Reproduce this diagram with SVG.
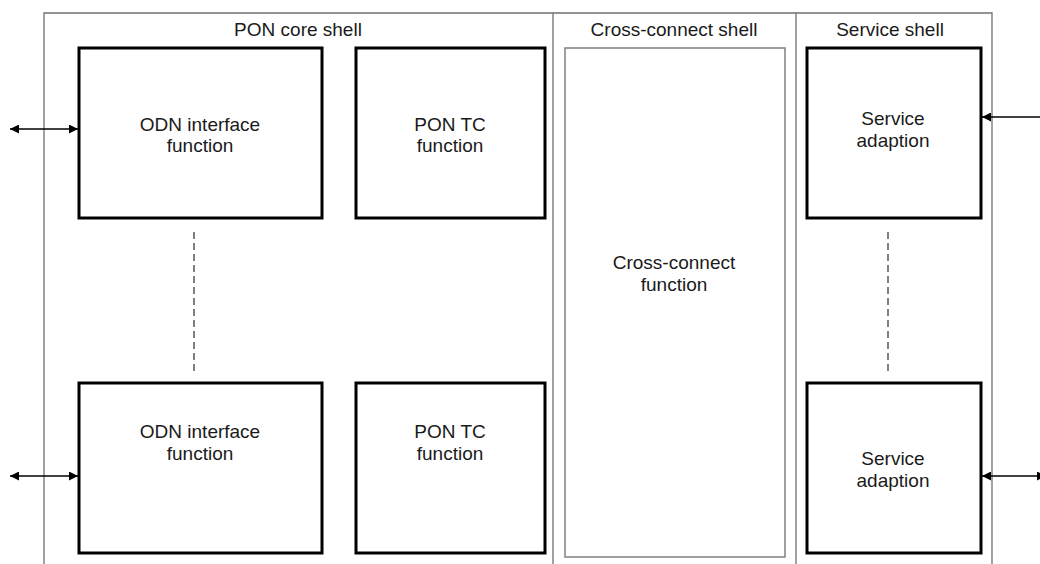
<svg xmlns="http://www.w3.org/2000/svg" width="1040" height="564" viewBox="0 0 1040 564">
<style>
.shell{fill:none;stroke:#707070;stroke-width:1.3}
.box{fill:#fff;stroke:#000;stroke-width:3}
.thin{fill:#fff;stroke:#808080;stroke-width:1.5}
.dash{stroke:#808080;stroke-width:2;stroke-dasharray:7,4;fill:none}
.arr{stroke:#000;stroke-width:1.3;fill:none}
text{font-family:"Liberation Sans",Arial,sans-serif;font-size:19px;fill:#1a1a1a;text-anchor:middle}
</style>
<defs>
<marker id="ah" viewBox="0 0 10 10" refX="10" refY="5" markerWidth="10" markerHeight="9" orient="auto-start-reverse" markerUnits="userSpaceOnUse">
<path d="M0,0 L10,5 L0,10 z" fill="#000"/>
</marker>
</defs>
<rect width="1040" height="564" fill="#fff"/>
<g id="shells">
<path class="shell" d="M44,564 V13 H992 V564 M553,13 V564 M796,13 V564"/>
<text x="298" y="36">PON core shell</text>
<text x="674" y="36">Cross-connect shell</text>
<text x="890" y="36">Service shell</text>
</g>
<g id="odn1"><rect class="box" x="79" y="48" width="243" height="170"/><text x="200" y="131">ODN interface</text><text x="200" y="152">function</text></g>
<g id="ponTc1"><rect class="box" x="356" y="48" width="189" height="170"/><text x="450" y="131">PON TC</text><text x="450" y="152">function</text></g>
<g id="odn2"><rect class="box" x="79" y="383" width="243" height="170"/><text x="200" y="438">ODN interface</text><text x="200" y="460">function</text></g>
<g id="ponTc2"><rect class="box" x="356" y="383" width="189" height="170"/><text x="450" y="438">PON TC</text><text x="450" y="460">function</text></g>
<g id="xc"><rect class="thin" x="565" y="48" width="220" height="509"/><text x="674" y="269">Cross-connect</text><text x="674" y="291">function</text></g>
<g id="sa1"><rect class="box" x="807" y="48" width="174" height="170"/><text x="893" y="125">Service</text><text x="893" y="147">adaption</text></g>
<g id="sa2"><rect class="box" x="807" y="383" width="174" height="170"/><text x="893" y="465">Service</text><text x="893" y="487">adaption</text></g>
<g id="connectors">
<line class="dash" x1="194" y1="232" x2="194" y2="373"/>
<line class="dash" x1="888" y1="232" x2="888" y2="373"/>
<line class="arr" x1="10" y1="129" x2="78" y2="129" marker-start="url(#ah)" marker-end="url(#ah)"/>
<line class="arr" x1="10" y1="476" x2="78" y2="476" marker-start="url(#ah)" marker-end="url(#ah)"/>
<line class="arr" x1="1040" y1="117" x2="982" y2="117" marker-end="url(#ah)"/>
<line class="arr" x1="1046" y1="476" x2="982" y2="476" marker-start="url(#ah)" marker-end="url(#ah)"/>
</g>
</svg>
